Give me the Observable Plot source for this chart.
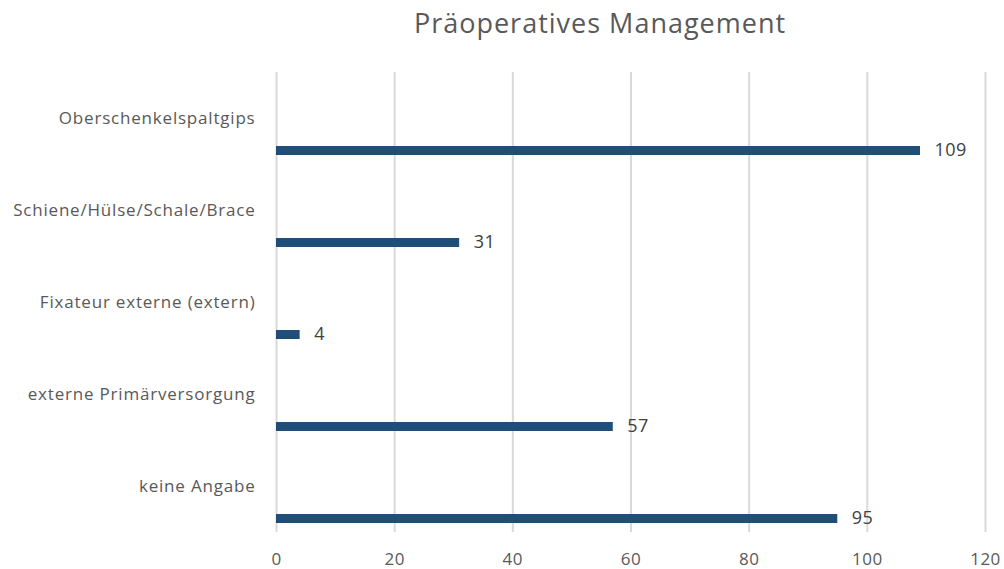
<!DOCTYPE html>
<html>
<head>
<meta charset="utf-8">
<script src="https://cdn.jsdelivr.net/npm/d3@7"></script>
<script src="https://cdn.jsdelivr.net/npm/@observablehq/plot@0.6"></script>
<style>
  html, body { margin: 0; padding: 0; background: #fff; }
  #title { height: 50px; line-height: 46px; font-family: "Open Sans", sans-serif; font-size: 27px; letter-spacing: 1px; color: #595959; text-align: center; padding-left: 196px; box-sizing: border-box; width: 1004px; }
  g[aria-label="y-axis tick label"] text { letter-spacing: 0.8px; }
  g[aria-label="x-axis tick label"] text { letter-spacing: 0.5px; }
  g[aria-label="text"] text { letter-spacing: 0.5px; }
</style>
</head>
<body>
<div id="title">Präoperatives Management</div>
<div id="chart"></div>
<script>
const categories = ["Oberschenkelspaltgips", "Schiene/Hülse/Schale/Brace", "Fixateur externe (extern)", "externe Primärversorgung", "keine Angabe"];
const values = [109, 31, 4, 57, 95];
const xTicks = [0, 20, 40, 60, 80, 100, 120];

const data = categories.map((c, i) => ({category: c, value: values[i]}));

const chart = Plot.plot({
  width: 1004,
  height: 519,
  marginTop: 22,
  marginBottom: 37,
  marginLeft: 276,
  marginRight: 19,
  style: {fontFamily: "Open Sans, sans-serif", color: "#595959", background: "#fff"},
  x: {domain: [0, 120], ticks: xTicks, label: null},
  y: {domain: categories, padding: 0, label: null},
  marks: [
    Plot.ruleX(xTicks, {stroke: "#d9d9d9", strokeWidth: 2, strokeOpacity: 1}),
    Plot.axisX({ticks: xTicks, tickSize: 0, tickPadding: 20, fontSize: 17, fill: "#595959", label: null}),
    Plot.axisY({tickSize: 0, tickPadding: 21, fontSize: 17, fill: "#595959", label: null}),
    Plot.barX(data, {x: "value", y: "category", fill: "#1f4e79", insetTop: 74, insetBottom: 9}),
    Plot.text(data, {x: "value", y: "category", text: d => String(d.value), dx: 14, dy: 32, textAnchor: "start", fontSize: 18, fill: "#404040"})
  ]
});
document.getElementById("chart").appendChild(chart);
</script>
</body>
</html>
